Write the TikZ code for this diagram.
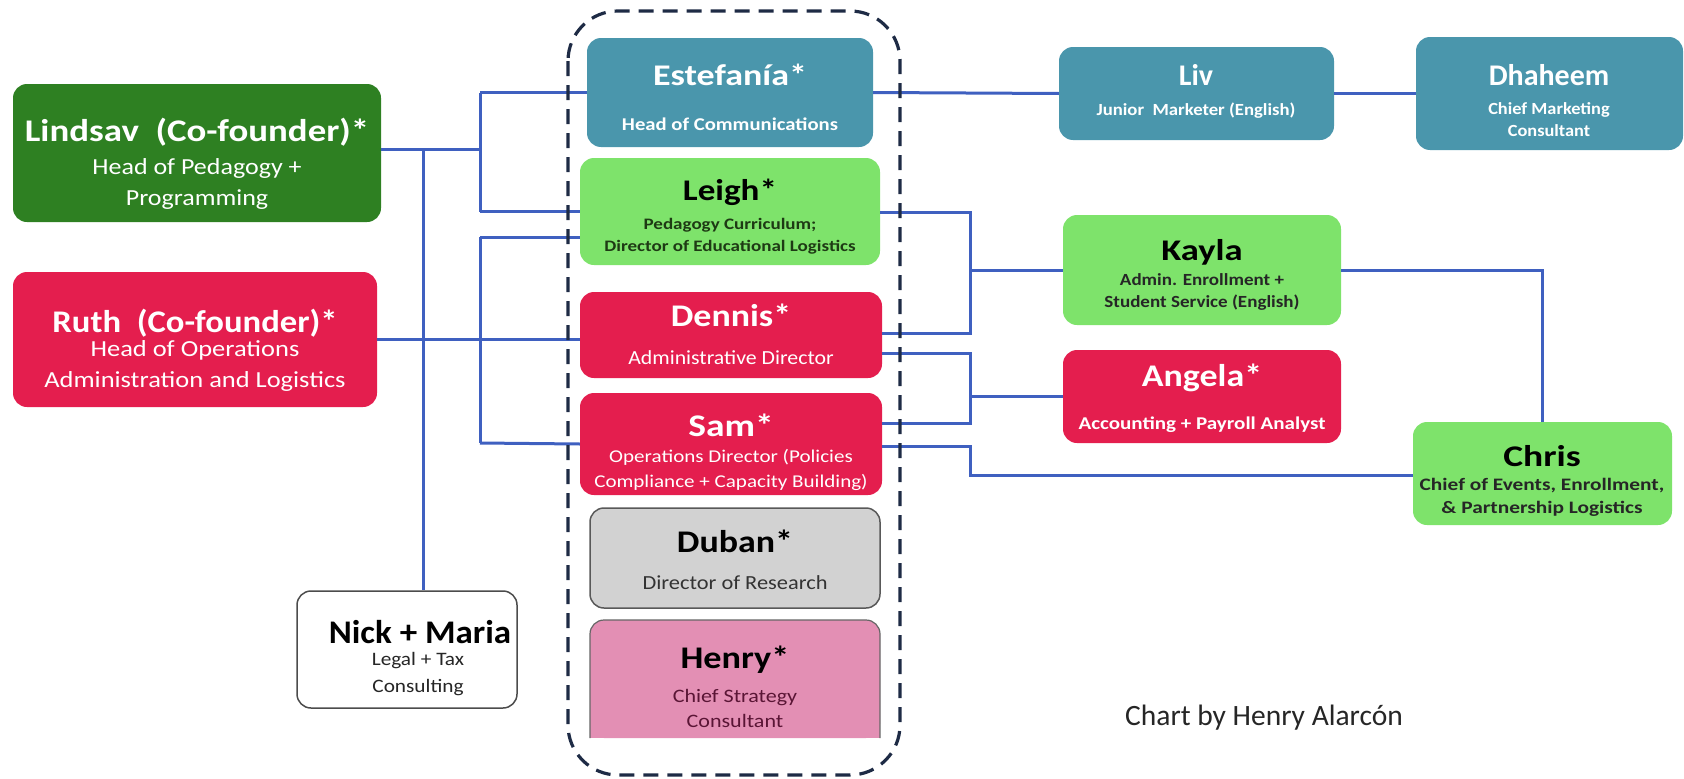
\documentclass[tikz,border=0pt]{standalone}
\usepackage{graphicx}
\usepackage{fontspec}
\setmainfont{Carlito}
\definecolor{teal}{HTML}{4A96AC}
\definecolor{lgreen}{HTML}{7EE36B}
\definecolor{dgreen}{HTML}{2E8022}
\definecolor{crim}{HTML}{E41E4E}
\definecolor{pinkb}{HTML}{E38FB4}
\definecolor{grayb}{HTML}{D2D2D2}
\definecolor{lineblue}{HTML}{3F60C0}
\definecolor{navy}{HTML}{1E2B45}
\definecolor{leightxt}{HTML}{1E3A14}
\definecolor{henrytxt}{HTML}{5A1535}
\newcommand{\hs}[2]{\scalebox{#1}[1]{#2}}
\begin{document}
\begin{tikzpicture}[x=1pt,y=-1pt,
  box/.style={rectangle, rounded corners=14pt, inner sep=0pt, draw=none},
  conn/.style={draw=lineblue, line width=3pt},
  nm/.style={inner sep=0pt, font=\fontsize{#1}{#1}\selectfont\bfseries},
  nm/.default=31.5,
  sb/.style={inner sep=0pt, font=\fontsize{#1}{#1}\selectfont},
  sbb/.style={inner sep=0pt, font=\fontsize{#1}{#1}\selectfont\bfseries}
]
\useasboundingbox (0,0) rectangle (1684,779);
% boxes
\node[box, fill=dgreen, minimum width=368pt, minimum height=138pt] (lindsay) at (197,153) {};
\node[box, fill=crim, minimum width=364pt, minimum height=135pt] (ruth) at (195,339.5) {};
\node[box, fill=white, draw=black!70, line width=1.5pt, minimum width=220pt, minimum height=117pt] (nick) at (407,649.5) {};
\node[box, fill=teal, minimum width=286pt, minimum height=109pt] (estefania) at (730,92.5) {};
\node[box, fill=lgreen, minimum width=300pt, minimum height=107pt] (leigh) at (730,211.5) {};
\node[box, fill=crim, minimum width=302pt, minimum height=86pt] (dennis) at (731,335) {};
\node[box, fill=crim, minimum width=302pt, minimum height=102pt] (sam) at (731,444) {};
\node[box, fill=grayb, draw=black!65, line width=1.5pt, minimum width=290pt, minimum height=100pt] (duban) at (735,558) {};
\node[box, fill=pinkb, minimum width=290pt, minimum height=118pt] (henry) at (735,679) {};
\fill[pinkb] (590,715) rectangle (880,738);
\draw[black!60, line width=1.2pt, rounded corners=14pt] (590,738) -- (590,620) -- (880,620) -- (880,738);
\node[box, fill=teal, minimum width=275pt, minimum height=93pt] (liv) at (1196.5,93.5) {};
\node[box, fill=teal, minimum width=267pt, minimum height=113pt] (dhaheem) at (1549.5,93.5) {};
\node[box, fill=lgreen, minimum width=278pt, minimum height=110pt] (kayla) at (1202,270) {};
\node[box, fill=crim, minimum width=278pt, minimum height=93pt] (angela) at (1202,396.5) {};
\node[box, fill=lgreen, minimum width=259pt, minimum height=103pt] (chris) at (1542.5,473.5) {};
% junction coordinates
\coordinate (jA) at (480,149);
\coordinate (jB) at (423,149);
\coordinate (jC) at (480,237);
\coordinate (jD) at (480,443);
\coordinate (rA) at (970,212);
\coordinate (rB) at (970,333);
\coordinate (rC) at (970,353);
\coordinate (rD) at (970,423);
\coordinate (rE) at (970,446);
\coordinate (rF) at (970,475);
% connectors left
\draw[conn] (lindsay.east |- jA) -- (jA);
\draw[conn] (jA |- estefania.west) -- (jA |- leigh.west);
\draw[conn] (jA |- estefania.west) -- (estefania.west);
\draw[conn] (jA |- leigh.west) -- (leigh.west);
\draw[conn] (jB) -- (jB |- nick.north);
\draw[conn] (ruth.east) -- (ruth.east -| dennis.west);
\draw[conn] (jC) -- (jD);
\draw[conn] (jC) -- (jC -| leigh.west);
\draw[conn] (jD) -- (sam.west);
% connectors right
\draw[conn] (estefania.east) -- (liv.west);
\draw[conn] (liv.east) -- (dhaheem.west);
\draw[conn] (rA -| leigh.east) -- (rA) -- (rB) -- (rB -| dennis.east);
\draw[conn] (rA |- kayla.west) -- (kayla.west);
\draw[conn] (rC -| dennis.east) -- (rC) -- (rD) -- (rD -| sam.east);
\draw[conn] (rC |- angela.west) -- (angela.west);
\draw[conn] (rE -| sam.east) -- (rE) -- (rF) -- (rF -| chris.west);
\draw[conn] (kayla.east) -- (kayla.east -| chris.north) -- (chris.north);
% dashed group
\draw[navy, line width=3.2pt, dash pattern=on 15pt off 9pt, rounded corners=50pt] (568,11) rectangle (900,775);
% texts
\node[nm, white] (lindsayN) at (197,132) {\hs{1.17}{Lindsav~~(Co-founder)*}};
\node[sb=23, white] (lindsayS1) at (197,168) {\hs{1.13}{Head of Pedagogy +}};
\node[sb=23, white] (lindsayS2) at (197,200) {\hs{1.13}{Programming}};
\node[nm, white] (ruthN) at (195,323) {\hs{1.1}{Ruth~~(Co-founder)*}};
\node[sb=23, white] (ruthS1) at (195,350) {\hs{1.15}{Head of Operations}};
\node[sb=23, white] (ruthS2) at (195,381) {\hs{1.15}{Administration and Logistics}};
\node[nm=30, white] (estefaniaN) at (730,75) {\hs{1.2}{Estefanía*}};
\node[sbb=18, white] (estefaniaS) at (730,124) {\hs{1.15}{Head of Communications}};
\node[nm=30, black] (leighN) at (730,192) {\hs{1.17}{Leigh*}};
\node[sbb=16, leightxt] (leighS1) at (730,225) {\hs{1.19}{Pedagogy Curriculum;}};
\node[sbb=16, leightxt] (leighS2) at (730,247) {\hs{1.19}{Director of Educational Logistics}};
\node[nm, white] (dennisN) at (731,315) {\hs{1.14}{Dennis*}};
\node[sb=20, white] (dennisS) at (731,358) {\hs{1.09}{Administrative Director}};
\node[nm, white] (samN) at (731,425) {\hs{1.19}{Sam*}};
\node[sb=18, white] (samS1) at (731,457) {\hs{1.17}{Operations Director (Policies}};
\node[sb=18, white] (samS2) at (731,482) {\hs{1.17}{Compliance + Capacity Building)}};
\node[nm, black] (dubanN) at (735,541) {\hs{1.14}{Duban*}};
\node[sb=20, black!80] (dubanS) at (735,583) {\hs{1.12}{Director of Research}};
\node[nm, black] (henryN) at (735,660) {\hs{1.15}{Henry*}};
\node[sb=19, henrytxt] (henryS1) at (735,698) {\hs{1.16}{Chief Strategy}};
\node[sb=19, henrytxt] (henryS2) at (735,721) {\hs{1.16}{Consultant}};
\node[nm=33, black] (nickN) at (420,632) {\hs{1.06}{Nick + Maria}};
\node[sb=19, black!85] (nickS1) at (418,661) {\hs{1.12}{Legal + Tax}};
\node[sb=19, black!85] (nickS2) at (418,688) {\hs{1.12}{Consulting}};
\node[nm=30, white] (livN) at (1196,75) {Liv};
\node[sbb=17, white] (livS) at (1196,111) {\hs{1.1}{Junior~~Marketer (English)}};
\node[nm=30, white] (dhaheemN) at (1549,75) {Dhaheem};
\node[sbb=17, white] (dhaheemS1) at (1549,110) {\hs{1.08}{Chief Marketing}};
\node[sbb=17, white] (dhaheemS2) at (1549,131) {\hs{1.08}{Consultant}};
\node[nm=30, black] (kaylaN) at (1202,252) {\hs{1.22}{Kayla}};
\node[sbb=17, black!85] (kaylaS1) at (1202,280) {\hs{1.12}{Admin. Enrollment +}};
\node[sbb=17, black!85] (kaylaS2) at (1202,303) {\hs{1.12}{Student Service (English)}};
\node[nm, white] (angelaN) at (1202,378) {\hs{1.14}{Angela*}};
\node[sbb=18, white] (angelaS) at (1202,425) {\hs{1.17}{Accounting + Payroll Analyst}};
\node[nm=30, black] (chrisN) at (1542,456) {\hs{1.25}{Chris}};
\node[sbb=17.5, black!85] (chrisS1) at (1542,486) {\hs{1.22}{Chief of Events, Enrollment,}};
\node[sbb=17.5, black!85] (chrisS2) at (1542,509) {\hs{1.22}{\& Partnership Logistics}};
\node[sb=29.5, black!85] (credit) at (1264,718) {Chart by Henry Alarcón};
\end{tikzpicture}
\end{document}
